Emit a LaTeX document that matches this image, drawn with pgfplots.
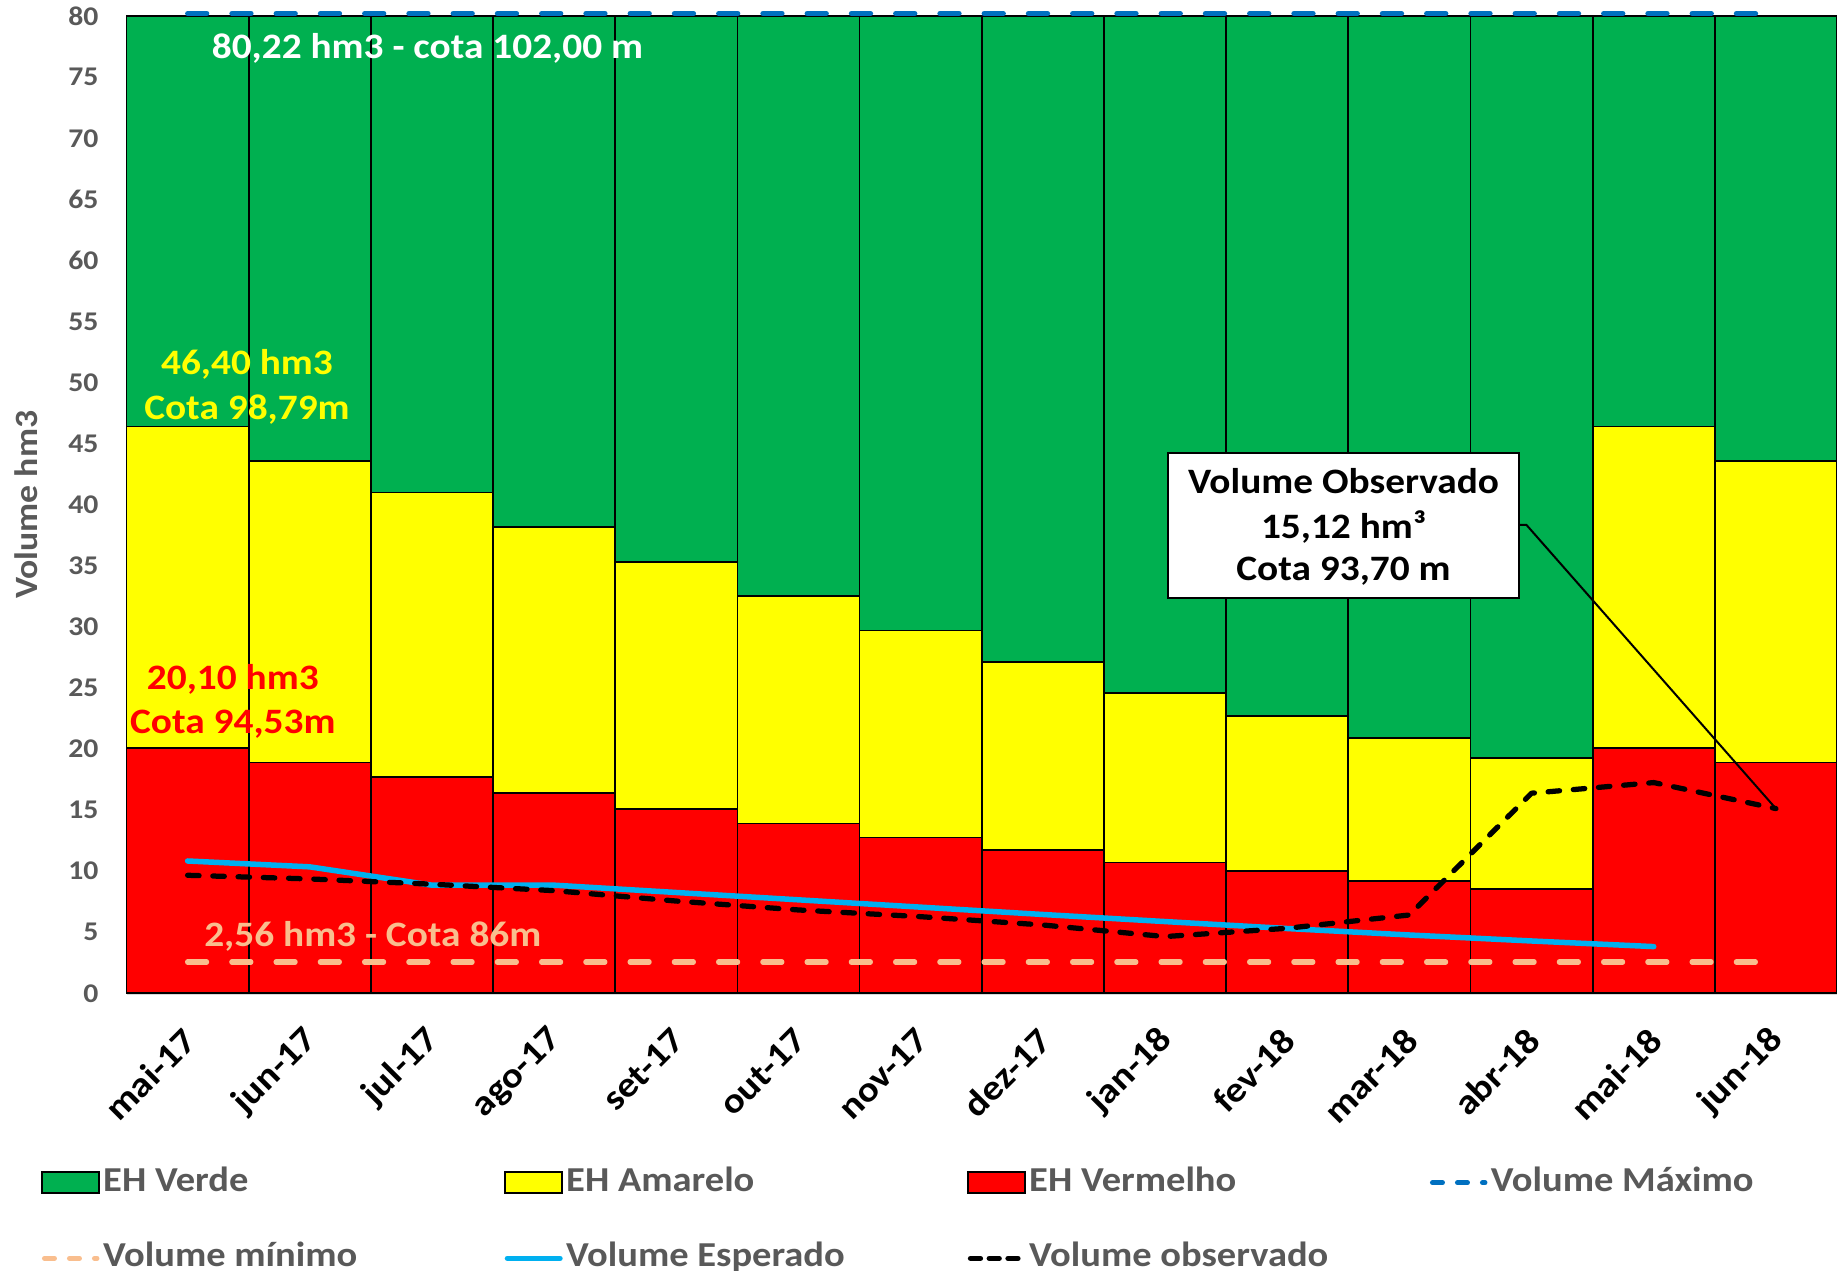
\documentclass[border=0pt]{standalone}
\usepackage{pgfplots}
\pgfplotsset{compat=1.18}
\usepackage{fontspec}
\setmainfont{Carlito}[FakeStretch=1.1]
\definecolor{cgreen}{HTML}{00B050}
\definecolor{cyellow}{HTML}{FFFF00}
\definecolor{cred}{HTML}{FF0000}
\definecolor{cmax}{HTML}{0070C0}
\definecolor{cmin}{HTML}{F9BE8E}
\definecolor{cexp}{HTML}{00B0F0}
\definecolor{cgray}{HTML}{595959}
\definecolor{cgrid}{HTML}{D9D9D9}
\begin{document}
\begin{tikzpicture}
\begin{axis}[
  at={(50.6pt,110.7pt)}, anchor=south west,
  scale only axis, width=684.2pt, height=390.8pt,
  xmin=-0.5, xmax=13.5, ymin=0, ymax=80,
  clip=false,
  xtick={0,1,...,13},
  xticklabels={mai-17,jun-17,jul-17,ago-17,set-17,out-17,nov-17,dez-17,jan-18,fev-18,mar-18,abr-18,mai-18,jun-18},
  ytick={0,5,...,80},
  major tick length=0pt,
  axis x line*=bottom, axis y line*=left,
  x axis line style={draw=cgrid, line width=1pt},
  y axis line style={draw=none},
  /pgf/number format/assume math mode=true,
  yticklabel style={font=\fontsize{10.8}{12}\selectfont\bfseries, text=cgray, anchor=east, inner sep=0pt, xshift=-11pt},
  xticklabel style={font=\fontsize{14.2}{16}\selectfont\bfseries, text=black, anchor=east, inner sep=0pt, xshift=1pt, yshift=-16.5pt, rotate=45},
  ylabel={Volume hm3},
  every axis y label/.style={at={(axis description cs:-0.0588,0.5)}, rotate=90, anchor=center, font=\fontsize{13}{15}\selectfont\bfseries, text=cgray},
  legend columns=4,
  legend style={at={(axis description cs:-0.05,-0.2326)}, anchor=west, draw=none, fill=none,
    inner sep=0pt, outer sep=0pt, row sep=17.5pt,
    font=\fontsize{14}{15}\selectfont\bfseries,
    nodes={text=cgray, inner xsep=1.4pt, inner ysep=0pt, text height=9.8pt, text depth=3pt},
    /tikz/every even column/.style={column sep=0pt},
    /tikz/every odd column/.style={column sep=0pt},
    cells={anchor=west}},
]
% bars: green (to top), yellow (cumulative top), red
\addplot[ybar, bar width=1, bar shift=0pt, fill=cgreen, draw=black, line width=0.7pt, forget plot] coordinates {
(0,80) (1,80) (2,80) (3,80) (4,80) (5,80) (6,80) (7,80) (8,80) (9,80) (10,80) (11,80) (12,80) (13,80)};
\addplot[ybar, bar width=1, bar shift=0pt, fill=cyellow, draw=black, line width=0.7pt, forget plot] coordinates {
(0,46.40) (1,43.6) (2,41.0) (3,38.2) (4,35.3) (5,32.5) (6,29.7) (7,27.1) (8,24.6) (9,22.7) (10,20.9) (11,19.25) (12,46.40) (13,43.6)};
\addplot[ybar, bar width=1, bar shift=0pt, fill=cred, draw=black, line width=0.7pt, forget plot] coordinates {
(0,20.10) (1,18.9) (2,17.7) (3,16.4) (4,15.1) (5,13.9) (6,12.75) (7,11.75) (8,10.7) (9,10.0) (10,9.2) (11,8.55) (12,20.10) (13,18.9)};
% lines
\addplot[cmax, line width=2pt, line cap=round, dash pattern=on 7.7pt off 10pt, forget plot] coordinates {(0,80.22) (13,80.22)};
\addplot[cmin, line width=2.1pt, line cap=round, dash pattern=on 7.6pt off 10.1pt, forget plot] coordinates {(0,2.56) (13,2.56)};
\addplot[cexp, line width=2.2pt, line cap=round, line join=round, forget plot] coordinates {
(0,10.83) (1,10.35) (2,8.85) (3,8.85) (4,8.25) (5,7.65) (6,7.05) (7,6.45) (8,5.87) (9,5.3) (10,4.77) (11,4.28) (12,3.82)};
\addplot[black, line width=2.1pt, line cap=round, line join=round, dash pattern=on 4.6pt off 5.5pt, forget plot] coordinates {
(0,9.66) (1,9.36) (2,8.93) (3,8.4) (4,7.55) (5,6.82) (6,6.27) (7,5.59) (8,4.64) (9,5.32) (10,6.41) (11,16.38) (12,17.25) (13,15.12)};
% legend
\addlegendimage{legend image code/.code={\draw[fill=cgreen,draw=black,line width=0.8pt] (0pt,-4.15pt) rectangle (22.7pt,4.15pt);}}
\addlegendentry{\makebox[158.9pt][l]{EH Verde}}
\addlegendimage{legend image code/.code={\draw[fill=cyellow,draw=black,line width=0.8pt] (0pt,-4.15pt) rectangle (22.7pt,4.15pt);}}
\addlegendentry{\makebox[158.9pt][l]{EH Amarelo}}
\addlegendimage{legend image code/.code={\draw[fill=cred,draw=black,line width=0.8pt] (0pt,-4.15pt) rectangle (22.7pt,4.15pt);}}
\addlegendentry{\makebox[158.9pt][l]{EH Vermelho}}
\addlegendimage{legend image code/.code={\draw[cmax,line width=2pt,line cap=round,dash pattern=on 4pt off 6pt] (1pt,0pt) -- (22pt,0pt);}}
\addlegendentry{\makebox[158.9pt][l]{Volume Máximo}}
\addlegendimage{legend image code/.code={\draw[cmin,line width=2pt,line cap=round,dash pattern=on 4pt off 6pt] (1pt,0pt) -- (22pt,0pt);}}
\addlegendentry{\makebox[158.9pt][l]{Volume mínimo}}
\addlegendimage{legend image code/.code={\draw[cexp,line width=2.2pt,line cap=round] (1pt,0pt) -- (22pt,0pt);}}
\addlegendentry{\makebox[158.9pt][l]{Volume Esperado}}
\addlegendimage{legend image code/.code={\draw[black,line width=2.1pt,line cap=round,dash pattern=on 4pt off 3.5pt] (1pt,0pt) -- (22pt,0pt);}}
\addlegendentry{\makebox[158.9pt][l]{Volume observado}}
% annotations
\node[anchor=base, text=white, font=\fontsize{14.3}{17}\selectfont\bfseries] at (axis cs:1.963,76.5) {80,22 hm3 - cota 102,00 m};
\node[anchor=base, text=cyellow, font=\fontsize{14.3}{17}\selectfont\bfseries] at (axis cs:0.486,50.64) {46,40 hm3};
\node[anchor=base, text=cyellow, font=\fontsize{14.3}{17}\selectfont\bfseries] at (axis cs:0.486,47.01) {Cota 98,79m};
\node[anchor=base, text=cred, font=\fontsize{14.3}{17}\selectfont\bfseries] at (axis cs:0.37,24.84) {20,10 hm3};
\node[anchor=base, text=cred, font=\fontsize{14.3}{17}\selectfont\bfseries] at (axis cs:0.37,21.29) {Cota 94,53m};
\node[anchor=base, text=cmin, font=\fontsize{14.3}{17}\selectfont\bfseries] at (axis cs:1.516,3.82) {2,56 hm3 - Cota 86m};
% callout box
\draw[black, line width=0.8pt] (axis cs:10.895,38.35) -- (axis cs:10.958,38.35) -- (axis cs:13,15.12);
\draw[black, line width=0.8pt, fill=white] (axis cs:8.025,32.35) rectangle (axis cs:10.895,44.27);
\node[anchor=base, font=\fontsize{14.3}{16}\selectfont\bfseries] at (axis cs:9.461,40.89) {Volume Observado};
\node[anchor=base, font=\fontsize{14.3}{16}\selectfont\bfseries] at (axis cs:9.461,37.26) {15,12 hm³};
\node[anchor=base, font=\fontsize{14.3}{16}\selectfont\bfseries] at (axis cs:9.461,33.77) {Cota 93,70 m};
\end{axis}
\pgfresetboundingbox
\path[use as bounding box] (0,0) rectangle (734.8pt,508pt);
\end{tikzpicture}
\end{document}
